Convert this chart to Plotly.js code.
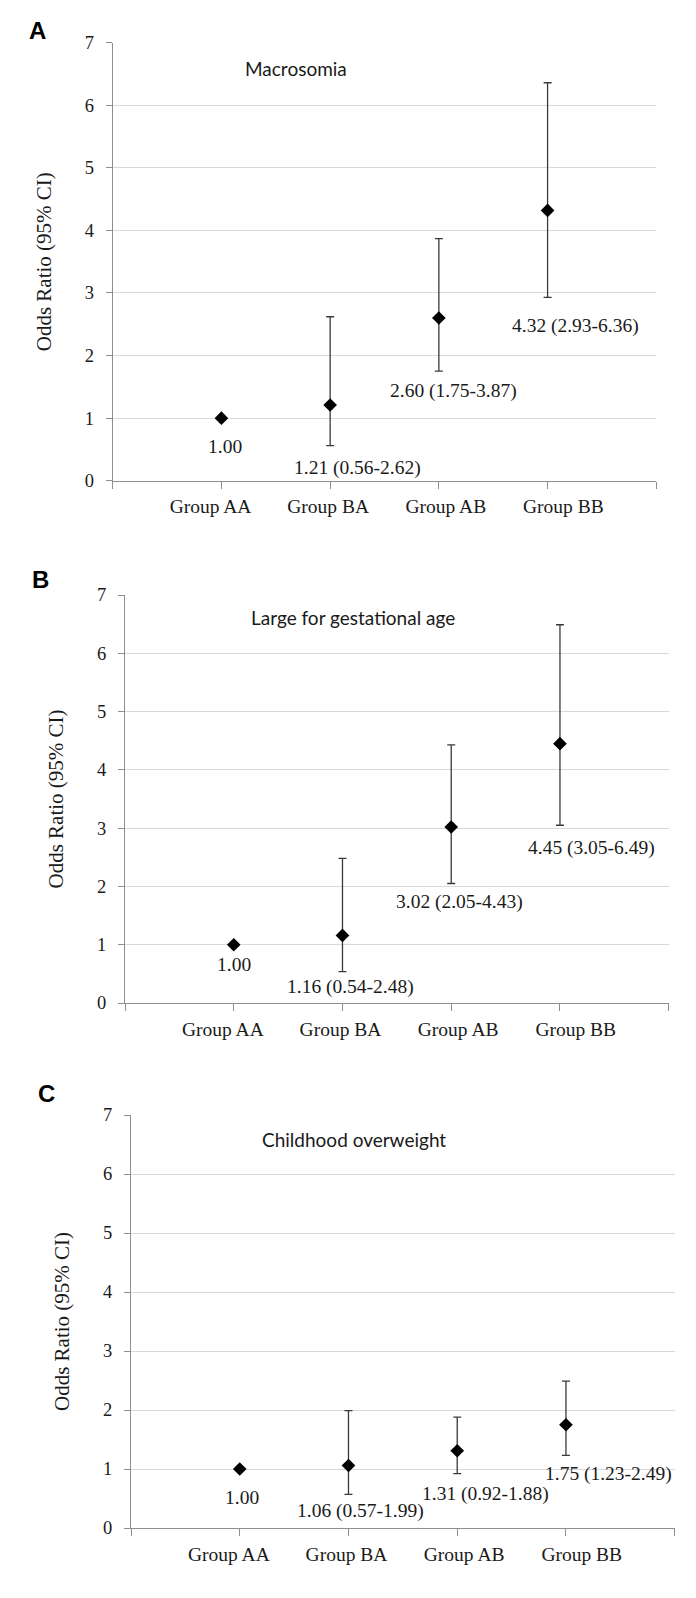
<!DOCTYPE html>
<html><head><meta charset="utf-8">
<script src="https://cdn.plot.ly/plotly-3.0.1.min.js"></script>
<style>html,body{margin:0;padding:0;background:#fff}#chart{width:696px;height:1598px}</style>
</head><body><div id="chart"></div>
<script>
// ---- data ----
const categories = ['Group AA', 'Group BA', 'Group AB', 'Group BB'];
const yTickValues = [0, 1, 2, 3, 4, 5, 6, 7];
const panelLetters = ['A', 'B', 'C'];
const outcomes = ['Macrosomia', 'Large for gestational age', 'Childhood overweight'];
const yTitle = 'Odds Ratio (95% CI)';

const orMacrosomia   = [1.00, 1.21, 2.60, 4.32];
const lowMacrosomia  = [1.00, 0.56, 1.75, 2.93];
const highMacrosomia = [1.00, 2.62, 3.87, 6.36];

const orLGA   = [1.00, 1.16, 3.02, 4.45];
const lowLGA  = [1.00, 0.54, 2.05, 3.05];
const highLGA = [1.00, 2.48, 4.43, 6.49];

const orOverweight   = [1.00, 1.06, 1.31, 1.75];
const lowOverweight  = [1.00, 0.57, 0.92, 1.23];
const highOverweight = [1.00, 1.99, 1.88, 2.49];

// ---- layout geometry (pixels) ----
const W = 696, H = 1598;
const panels = [
  {or: orMacrosomia, low: lowMacrosomia, high: highMacrosomia,
   x0: 112.7, x1: 656.3, y0: 42.7, y1: 480.7, letter: [37.5, 30.5], sub: [243, 69],
   dx: [4, 27, 15, 28], dy: [28, 22, 20, 29]},
  {or: orLGA, low: lowLGA, high: highLGA,
   x0: 125, x1: 668.7, y0: 595, y1: 1003, letter: [40.5, 579], sub: [249.3, 617.7],
   dx: [0, 8, 8, 32], dy: [20, 15, 18, 23]},
  {or: orOverweight, low: lowOverweight, high: highOverweight,
   x0: 131, x1: 674.7, y0: 1115, y1: 1528, letter: [46.5, 1093], sub: [260, 1139.3],
   dx: [2, 12, 28, 43], dy: [28, 17, 20, 19]}
];

const SERIF = '"Liberation Serif", "Times New Roman", serif';
const SANS = 'Lato, "Open Sans", sans-serif';
const AXIS_COLOR = '#8f8f8f';

const traces = [];
const layout = {
  width: W, height: H, margin: {l: 0, r: 0, t: 0, b: 0},
  paper_bgcolor: '#fff', plot_bgcolor: '#fff', showlegend: false,
  annotations: []
};

const fmt = v => v.toFixed(2);

panels.forEach((p, i) => {
  const n = i + 1;
  const s = n === 1 ? '' : String(n);
  const xId = 'x' + s, yId = 'y' + s;
  const ovId = 'x' + (n + 3);
  const xPos = categories.map((c, k) => k + 1);

  traces.push({
    type: 'scatter', mode: 'markers', x: xPos, y: p.or,
    xaxis: xId, yaxis: yId,
    marker: {symbol: 'diamond', size: 10.5, color: '#000'},
    error_y: {type: 'data', symmetric: false,
      array: p.high.map((h, k) => h - p.or[k]),
      arrayminus: p.or.map((o, k) => o - p.low[k]),
      color: '#3a3a3a', thickness: 1.3, width: 4},
    hoverinfo: 'skip'
  });
  traces.push({type: 'scatter', mode: 'markers', x: [], y: [], xaxis: ovId, yaxis: yId, hoverinfo: 'skip'});

  const dom = [p.x0 / W, p.x1 / W];
  layout['xaxis' + s] = {
    domain: dom, range: [0, 5], anchor: yId,
    showgrid: false, zeroline: false, showline: true, linecolor: AXIS_COLOR, linewidth: 1,
    ticks: 'outside', ticklen: 7, tickcolor: AXIS_COLOR, tickwidth: 1,
    tickvals: [0, 1, 2, 3, 4, 5], showticklabels: false, fixedrange: true
  };
  layout['xaxis' + (n + 3)] = {
    overlaying: xId, anchor: yId, side: 'bottom', range: [0.168, 4.79],
    tickvals: xPos, ticktext: categories, ticks: '',
    showgrid: false, zeroline: false, showline: false,
    tickfont: {family: SERIF, size: 19.5, color: '#1a1a1a'},
    ticklabelstandoff: 12, fixedrange: true
  };
  layout['yaxis' + s] = {
    domain: [1 - p.y1 / H, 1 - p.y0 / H], range: [0, 7], anchor: xId,
    tickvals: yTickValues, showgrid: true, gridcolor: '#d9d9d9', gridwidth: 1,
    zeroline: false, showline: true, linecolor: AXIS_COLOR, linewidth: 1,
    ticks: 'outside', ticklen: 6, tickcolor: AXIS_COLOR,
    tickfont: {family: SERIF, size: 18.5, color: '#1a1a1a'},
    ticklabelstandoff: 8,
    title: {text: yTitle, font: {family: SERIF, size: 21, color: '#1a1a1a'}, standoff: 27},
    fixedrange: true
  };

  // panel letter
  layout.annotations.push({
    xref: 'paper', yref: 'paper', x: p.letter[0] / W, y: 1 - p.letter[1] / H,
    xanchor: 'center', yanchor: 'middle', showarrow: false,
    text: '<b>' + panelLetters[i] + '</b>',
    font: {family: 'Liberation Sans, Arial, sans-serif', size: 24, color: '#000'}
  });
  // outcome subtitle
  layout.annotations.push({
    xref: 'paper', yref: 'paper', x: p.sub[0] / W, y: 1 - p.sub[1] / H,
    xanchor: 'left', yanchor: 'middle', showarrow: false,
    text: outcomes[i], font: {family: SANS, size: 19, color: '#1a1a1a'}
  });
  // value labels
  p.or.forEach((o, k) => {
    const txt = (p.low[k] === p.high[k]) ? fmt(o)
      : fmt(o) + ' (' + fmt(p.low[k]) + '-' + fmt(p.high[k]) + ')';
    layout.annotations.push({
      xref: xId, yref: yId, x: xPos[k], y: p.low[k],
      xshift: p.dx[k], yshift: -p.dy[k],
      xanchor: 'center', yanchor: 'middle', showarrow: false,
      text: txt, font: {family: SERIF, size: 19.5, color: '#1a1a1a'}
    });
  });
});

Plotly.newPlot('chart', traces, layout, {staticPlot: true, displayModeBar: false});
</script>
</body></html>
